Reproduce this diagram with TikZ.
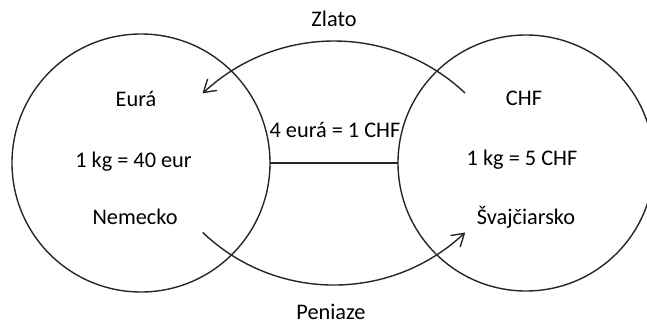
\documentclass[tikz,border=0pt]{standalone}
\usepackage{fontspec}
\setmainfont{Carlito}
\usetikzlibrary{arrows.meta,bending}
\begin{document}
\begin{tikzpicture}[x=1pt,y=1pt,
  ln/.style={line width=1.4pt, black!85},
  ring/.style={ln, draw, circle, inner sep=0pt, outer sep=0pt},
  lbl/.style={anchor=base, inner sep=0pt, font=\fontsize{22.3}{26}\selectfont},
  arr/.style={ln, -{Straight Barb[length=12pt,width=15pt,line width=1.4pt,bend]}}]
\useasboundingbox (0,0) rectangle (647,325);
\clip (0,0) rectangle (647,325);
\node[ring, minimum size=258pt] (L) at (141,162) {};
\node[ring, minimum size=256pt] (R) at (526,162) {};
\draw[ln] (L.east) -- (R.west);
% labels
\node[lbl] (eura) at (136,219) {Eurá};
\node[lbl] (kgl) at (133.5,158) {1 kg = 40 eur};
\node[lbl] (nem) at (135,101) {Nemecko};
\node[lbl] (chf) at (524,220) {CHF};
\node[lbl] (kgr) at (522,160) {1 kg = 5 CHF};
\node[lbl] (svk) at (526,101) {Švajčiarsko};
\node[lbl] (rate) at (335,188) {4 eurá = 1 CHF};
\node[lbl] (zl) at (334,299) {Zlato};
\node[lbl] (pen) at (331,5.5) {Peniaze};
% exchange arcs
\coordinate (zs) at (465,232);
\coordinate (ps) at (202.7,92.6);
\draw[arr] (zs) arc[start angle=46.7, end angle=133.5, radius=191];
\draw[arr] (ps) arc[start angle=226.3, end angle=313.7, radius=190];
\end{tikzpicture}
\end{document}
